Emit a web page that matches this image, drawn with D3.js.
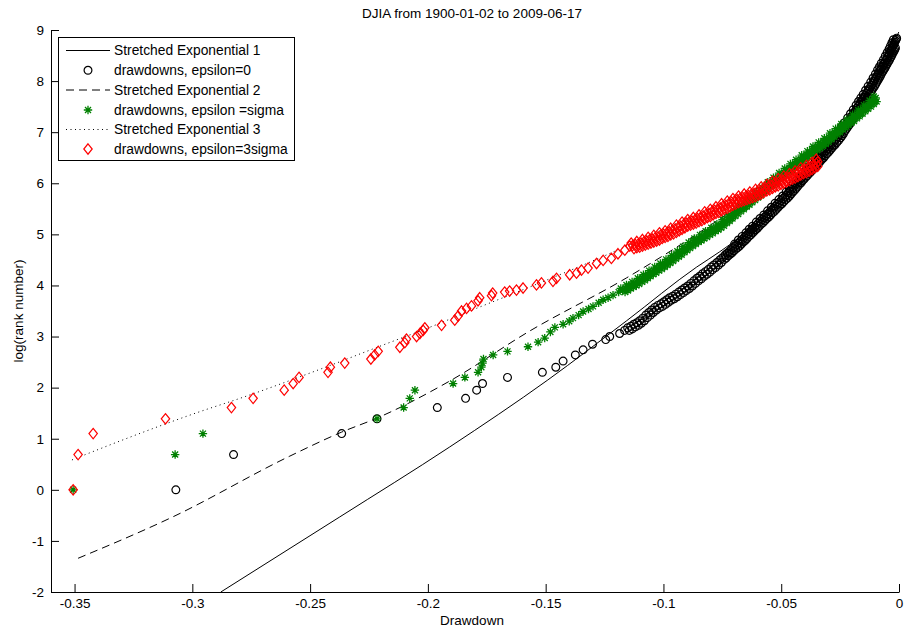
<!DOCTYPE html>
<html><head><meta charset="utf-8">
<script src="https://cdn.jsdelivr.net/npm/d3@7"></script>
<style>
body{margin:0;background:#fff}
svg{display:block;font-family:"Liberation Sans",Arial,sans-serif}
</style>
</head><body>
<svg id="chart" width="905" height="632"></svg>
<script>
// ---------------- data ----------------
const titleText = "DJIA from 1900-01-02 to 2009-06-17";
const xLabelText = "Drawdown";
const yLabelText = "log(rank number)";
const xTicks = [-0.35, -0.3, -0.25, -0.2, -0.15, -0.1, -0.05, 0];
const xTickLabels = ["-0.35", "-0.3", "-0.25", "-0.2", "-0.15", "-0.1", "-0.05", "0"];
const yTicks = [-2, -1, 0, 1, 2, 3, 4, 5, 6, 7, 8, 9];
const yTickLabels = ["-2", "-1", "0", "1", "2", "3", "4", "5", "6", "7", "8", "9"];
const legendLabels = ["Stretched Exponential 1", "drawdowns, epsilon=0", "Stretched Exponential 2",
  "drawdowns, epsilon =sigma", "Stretched Exponential 3", "drawdowns, epsilon=3sigma"];

// Stretched Exponential 1 (solid)
const fit1X = [-0.2879, -0.2374, -0.1907, -0.1491, -0.1156, -0.0859, -0.0761, -0.0621, -0.0494, -0.0392, -0.0307, -0.0222, -0.0137, -0.0082, -0.0027, -0.0001];
const fit1Y = [-2.0, -0.53, 0.84, 2.15, 3.31, 4.36, 4.66, 5.16, 5.80, 6.33, 6.80, 7.25, 7.80, 8.20, 8.68, 8.96];
// Stretched Exponential 2 (dashed)
const fit2X = [-0.3485, -0.3083, -0.2586, -0.2366, -0.2213, -0.1907, -0.1567, -0.1156, -0.0876, -0.0632, -0.0421, -0.0252, -0.0099];
const fit2Y = [-1.34, -0.53, 0.66, 1.13, 1.41, 2.13, 3.11, 4.15, 4.95, 5.71, 6.40, 7.05, 7.67];
// Stretched Exponential 3 (dotted)
const fit3X = [-0.3511, -0.3265, -0.2968, -0.2798, -0.2446, -0.2170, -0.2004, -0.1822, -0.1525, -0.1270, -0.1016, -0.0761, -0.0506, -0.0337];
const fit3Y = [0.585, 1.03, 1.53, 1.79, 2.38, 2.87, 3.16, 3.50, 4.05, 4.54, 5.07, 5.58, 6.10, 6.50];

// drawdowns, epsilon=0 (black circles)
const dd0X = [-0.3070,-0.2825,-0.2366,-0.2216,-0.1960,-0.1840,-0.1793,-0.1768,-0.1662,-0.1514,-0.1457,-0.1426,-0.1374,-0.1341,-0.1301,-0.1245,-0.1228,-0.1186,-0.1165,
-0.1152,-0.1139,-0.1126,-0.1113,-0.1101,-0.1088,-0.1075,-0.1062,-0.1050,-0.1037,-0.1024,-0.1011,-0.0998,-0.0986,-0.0974,-0.0961,-0.0948,-0.0935,-0.0922,-0.0910,-0.0897,-0.0884,-0.0871,-0.0858,-0.0846,-0.0834,-0.0822,-0.0810,-0.0798,-0.0786,-0.0773,-0.0761,
-0.0753,-0.0745,-0.0737,-0.0729,-0.0721,-0.0713,-0.0705,-0.0697,-0.0689,
-0.0681,-0.0673,-0.0665,-0.0657,-0.0649,-0.0641,-0.0633,-0.0627,-0.0621,
-0.0613,-0.0605,-0.0597,-0.0589,-0.0581,-0.0573,-0.0565,-0.0557,-0.0549,
-0.0541,-0.0533,-0.0525,-0.0517,-0.0509,-0.0501,-0.0493,-0.0485,-0.0477,
-0.0470,-0.0463,-0.0456,-0.0449,-0.0442,-0.0435,-0.0428,-0.0422,
-0.0415,-0.0408,-0.0401,-0.0394,-0.0387,-0.0380,-0.0373,-0.0367,
-0.0360,-0.0353,-0.0346,-0.0339,-0.0332,-0.0325,-0.0318,-0.0311,
-0.0304,-0.0297,-0.0290,-0.0283,-0.0276,-0.0268,-0.0260,
-0.0254,-0.0248,-0.0242,-0.0236,-0.0230,-0.0224,-0.0218,-0.0209,
-0.0203,-0.0197,-0.0191,-0.0185,-0.0179,-0.0173,-0.0167,-0.0163,-0.0158,
-0.0153,-0.0148,-0.0143,-0.0138,-0.0133,-0.0128,-0.0122,-0.0116,
-0.0111,-0.0106,-0.0101,-0.0096,-0.0091,-0.0087,-0.0082,
-0.0078,-0.0074,-0.0070,-0.0066,-0.0062,-0.0057,-0.0053,
-0.0049,-0.0045,-0.0041,-0.0037,-0.0033,-0.0030,-0.0027,
-0.0024,-0.0021,-0.0018,-0.0015,-0.0012,-0.0010];
const dd0Y = [0,0.69,1.10,1.39,1.61,1.79,1.95,2.08,2.20,2.30,2.40,2.52,2.64,2.74,2.85,2.94,3.00,3.06,3.12,
3.17,3.20,3.24,3.27,3.31,3.36,3.42,3.47,3.52,3.57,3.61,3.64,3.68,3.72,3.76,3.79,3.83,3.87,3.91,3.95,3.99,4.04,4.09,4.14,4.18,4.23,4.27,4.31,4.36,4.40,4.45,4.50,
4.53,4.56,4.60,4.63,4.66,4.70,4.73,4.76,4.79,
4.83,4.87,4.90,4.94,4.98,5.01,5.05,5.08,5.11,
5.14,5.18,5.22,5.25,5.29,5.33,5.36,5.40,5.44,
5.47,5.51,5.55,5.59,5.62,5.66,5.70,5.73,5.77,
5.81,5.85,5.88,5.92,5.96,6.00,6.03,6.07,
6.10,6.14,6.17,6.21,6.24,6.28,6.31,6.34,
6.38,6.41,6.45,6.49,6.52,6.56,6.60,6.63,
6.67,6.71,6.75,6.78,6.82,6.86,6.91,
6.95,6.99,7.04,7.08,7.12,7.16,7.20,7.26,
7.30,7.34,7.38,7.42,7.47,7.51,7.55,7.58,7.61,
7.65,7.69,7.72,7.76,7.80,7.83,7.88,7.92,
7.96,8.00,8.04,8.08,8.12,8.16,8.20,
8.23,8.26,8.29,8.33,8.36,8.40,8.43,
8.47,8.50,8.54,8.58,8.61,8.64,8.67,
8.70,8.73,8.76,8.79,8.82,8.84];
// more epsilon=0 drawdowns on the lower-right side of the dense band
const dd0LowX = [-0.1145,-0.1132,-0.1119,-0.1106,-0.1094,-0.1081,-0.1068,-0.1055,-0.1043,-0.1030,-0.1017,-0.1004,-0.0991,-0.0979,-0.0967,-0.0954,-0.0941,-0.0928,-0.0915,-0.0903,-0.0890,-0.0877,-0.0864,-0.0851,-0.0839,-0.0827,-0.0815,-0.0803,-0.0791,-0.0779,-0.0766,-0.0754,
-0.0741,-0.0733,-0.0725,-0.0717,-0.0709,-0.0701,-0.0693,-0.0685,-0.0677,-0.0669,-0.0661,-0.0653,-0.0645,-0.0637,-0.0629,-0.0621,-0.0615,-0.0609,
-0.0601,-0.0593,-0.0585,-0.0577,-0.0569,-0.0561,-0.0553,-0.0545,-0.0537,-0.0529,-0.0521,-0.0513,-0.0505,-0.0497,-0.0489,-0.0481,-0.0473,-0.0465,
-0.0458,-0.0451,-0.0444,-0.0437,-0.0430,-0.0423,-0.0416,-0.0410,-0.0403,-0.0396,-0.0389,-0.0382,-0.0375,-0.0368,-0.0361,-0.0355,
-0.0348,-0.0341,-0.0334,-0.0327,-0.0320,-0.0313,-0.0306,-0.0299,-0.0292,-0.0285,-0.0278,-0.0271,-0.0264,-0.0256,-0.0248,
-0.0242,-0.0236,-0.0230,-0.0224,-0.0218,-0.0212,-0.0206,-0.0197,-0.0191,-0.0185,-0.0179,-0.0173,-0.0167,-0.0161,-0.0155,-0.0151,-0.0146,
-0.0141,-0.0136,-0.0131,-0.0126,-0.0121,-0.0116,-0.0110,-0.0104,-0.0099,-0.0094,-0.0089,-0.0084,-0.0079,-0.0075,-0.0070,
-0.0066,-0.0062,-0.0058,-0.0054,-0.0050,-0.0045,-0.0041,-0.0037,-0.0033,-0.0029,-0.0025,-0.0021,-0.0018,-0.0015];
const dd0LowY = [3.12,3.15,3.19,3.22,3.26,3.31,3.37,3.42,3.47,3.52,3.56,3.59,3.63,3.67,3.71,3.74,3.78,3.82,3.86,3.90,3.94,3.99,4.04,4.09,4.13,4.18,4.22,4.26,4.31,4.35,4.40,4.45,
4.51,4.54,4.58,4.61,4.64,4.68,4.71,4.74,4.77,4.81,4.85,4.88,4.92,4.96,4.99,5.03,5.06,5.09,
5.12,5.16,5.20,5.23,5.27,5.31,5.34,5.38,5.42,5.45,5.49,5.53,5.57,5.60,5.64,5.68,5.71,5.75,
5.79,5.83,5.86,5.90,5.94,5.98,6.01,6.05,6.08,6.12,6.15,6.19,6.22,6.26,6.29,6.32,
6.36,6.39,6.43,6.47,6.50,6.54,6.58,6.61,6.65,6.69,6.73,6.76,6.80,6.84,6.89,
6.93,6.97,7.02,7.06,7.10,7.14,7.18,7.24,7.28,7.32,7.36,7.40,7.45,7.49,7.53,7.56,7.59,
7.63,7.67,7.70,7.74,7.78,7.81,7.86,7.90,7.94,7.98,8.02,8.06,8.10,8.14,8.18,
8.21,8.24,8.27,8.31,8.34,8.38,8.41,8.45,8.48,8.52,8.56,8.59,8.62,8.65];
// and on the upper-left side of the dense band
const dd0UpX = [-0.0698,-0.0682,-0.0666,-0.0650,-0.0636,-0.0622,-0.0606,-0.0590,-0.0574,-0.0558,-0.0542,-0.0526,-0.0510,-0.0494,-0.0479,-0.0465,-0.0451,-0.0437,-0.0424,-0.0410,
-0.0396,-0.0382,-0.0369,-0.0355,-0.0341,-0.0327,-0.0313,-0.0299,-0.0285,-0.0269,-0.0257,-0.0245,-0.0233,-0.0218,-0.0206,-0.0194,-0.0182,-0.0172,-0.0162,-0.0152,
-0.0142,-0.0131,-0.0120,-0.0110,-0.0100,-0.0091,-0.0083,-0.0075,-0.0066,-0.0058,-0.0050,-0.0042,-0.0036,-0.0030,-0.0024];
const dd0UpY = [4.81,4.89,4.96,5.03,5.10,5.16,5.24,5.31,5.38,5.46,5.53,5.61,5.68,5.75,5.83,5.90,5.98,6.05,6.12,6.19,
6.26,6.33,6.40,6.47,6.54,6.62,6.69,6.77,6.84,6.93,7.01,7.10,7.18,7.28,7.36,7.44,7.53,7.60,7.67,7.74,
7.82,7.90,7.98,8.06,8.14,8.22,8.28,8.35,8.42,8.49,8.56,8.63,8.69,8.75,8.81];

// drawdowns, epsilon = sigma (green stars)
const dd1X = [-0.3506,-0.3073,-0.2955,-0.2216,-0.2103,-0.2077,-0.2055,-0.1893,-0.1843,-0.1787,-0.1773,-0.1768,-0.1764,-0.1723,-0.1662,-0.1575,-0.1532,-0.1504,-0.1480,-0.1461,-0.1426,-0.1400,-0.1384,-0.1360,-0.1341,-0.1318,-0.1299,-0.1275,-0.1256,-0.1235,-0.1214,-0.1190,
-0.1173,-0.1161,-0.1149,-0.1137,-0.1125,-0.1113,-0.1101,-0.1089,-0.1077,-0.1065,-0.1053,-0.1041,-0.1029,-0.1017,-0.1005,-0.0993,-0.0981,-0.0969,-0.0957,-0.0945,
-0.0933,-0.0921,-0.0909,-0.0897,-0.0885,-0.0873,-0.0861,-0.0849,-0.0837,-0.0825,-0.0813,-0.0801,-0.0789,-0.0777,-0.0765,-0.0753,-0.0741,-0.0729,-0.0717,-0.0705,
-0.0693,-0.0681,-0.0669,-0.0657,-0.0645,-0.0633,-0.0621,-0.0609,-0.0597,-0.0585,-0.0573,-0.0561,-0.0549,-0.0537,-0.0525,-0.0513,-0.0501,-0.0489,-0.0477,-0.0465,
-0.0453,-0.0441,-0.0429,-0.0417,-0.0405,-0.0393,-0.0381,-0.0369,-0.0357,-0.0345,-0.0333,-0.0321,-0.0309,-0.0297,-0.0285,-0.0273,-0.0261,-0.0249,-0.0237,-0.0225,
-0.0213,-0.0201,-0.0189,-0.0177,-0.0165,-0.0153,-0.0141,-0.0129,-0.0117,-0.0105,-0.0099];
const dd1Y = [0,0.69,1.10,1.39,1.61,1.79,1.95,2.08,2.20,2.30,2.40,2.48,2.56,2.64,2.71,2.80,2.89,2.97,3.09,3.18,3.24,3.30,3.36,3.42,3.49,3.54,3.59,3.66,3.72,3.76,3.81,3.87,
3.91,3.94,3.98,4.01,4.04,4.07,4.11,4.14,4.18,4.22,4.26,4.29,4.33,4.36,4.40,4.44,4.48,4.52,4.56,4.60,
4.64,4.69,4.73,4.77,4.81,4.85,4.89,4.92,4.96,4.99,5.03,5.06,5.10,5.13,5.17,5.21,5.26,5.30,5.35,5.40,
5.44,5.49,5.53,5.58,5.62,5.67,5.71,5.76,5.80,5.85,5.89,5.94,5.99,6.03,6.08,6.12,6.17,6.21,6.26,6.30,
6.35,6.39,6.43,6.47,6.52,6.56,6.60,6.65,6.69,6.73,6.77,6.81,6.85,6.90,6.95,7.00,7.04,7.09,7.13,7.18,
7.22,7.26,7.31,7.35,7.40,7.45,7.50,7.54,7.59,7.64,7.67];
const dd1LowX = [-0.1163,-0.1151,-0.1139,-0.1127,-0.1115,-0.1103,-0.1091,-0.1079,-0.1067,-0.1055,-0.1043,-0.1031,-0.1019,-0.1007,-0.0995,-0.0983,-0.0971,-0.0959,-0.0947,-0.0935,
-0.0923,-0.0911,-0.0899,-0.0887,-0.0875,-0.0863,-0.0851,-0.0839,-0.0827,-0.0815,-0.0803,-0.0791,-0.0779,-0.0767,-0.0755,-0.0743,-0.0731,-0.0719,-0.0707,-0.0695,
-0.0683,-0.0671,-0.0659,-0.0647,-0.0635,-0.0623,-0.0611,-0.0599,-0.0587,-0.0575,-0.0563,-0.0551,-0.0539,-0.0527,-0.0515,-0.0503,-0.0491,-0.0479,-0.0467,-0.0455,
-0.0443,-0.0431,-0.0419,-0.0407,-0.0395,-0.0383,-0.0371,-0.0359,-0.0347,-0.0335,-0.0323,-0.0311,-0.0299,-0.0287,-0.0275,-0.0263,-0.0251,-0.0239,-0.0227,-0.0215,
-0.0203,-0.0191,-0.0179,-0.0167,-0.0155,-0.0143,-0.0131,-0.0119,-0.0107,-0.0095];
const dd1LowY = [3.87,3.90,3.94,3.97,4.00,4.03,4.07,4.10,4.14,4.18,4.22,4.25,4.29,4.32,4.36,4.40,4.44,4.48,4.52,4.56,
4.60,4.65,4.69,4.73,4.77,4.81,4.85,4.88,4.92,4.95,4.99,5.02,5.06,5.09,5.13,5.17,5.22,5.26,5.31,5.36,
5.40,5.45,5.49,5.54,5.58,5.63,5.67,5.72,5.76,5.81,5.85,5.90,5.95,5.99,6.04,6.08,6.13,6.17,6.22,6.26,
6.31,6.35,6.39,6.43,6.48,6.52,6.56,6.61,6.65,6.69,6.73,6.77,6.81,6.86,6.91,6.96,7.00,7.05,7.09,7.14,
7.18,7.22,7.27,7.31,7.36,7.41,7.46,7.50,7.55,7.60];
const dd1UpX = [-0.1181,-0.1157,-0.1133,-0.1109,-0.1085,-0.1061,-0.1037,-0.1013,-0.0989,-0.0965,-0.0941,-0.0917,-0.0893,-0.0869,-0.0845,-0.0821,-0.0797,-0.0773,-0.0749,-0.0725,
-0.0701,-0.0677,-0.0653,-0.0629,-0.0605,-0.0581,-0.0557,-0.0533,-0.0509,-0.0485,-0.0461,-0.0437,-0.0413,-0.0389,-0.0365,-0.0341,-0.0317,-0.0293,-0.0269,-0.0245,
-0.0221,-0.0197,-0.0173,-0.0149,-0.0125,-0.0107];
const dd1UpY = [3.94,4.01,4.07,4.14,4.21,4.29,4.36,4.43,4.51,4.59,4.67,4.76,4.84,4.92,4.99,5.06,5.13,5.20,5.29,5.38,
5.47,5.56,5.65,5.74,5.83,5.92,6.02,6.11,6.20,6.29,6.38,6.46,6.55,6.63,6.72,6.80,6.88,6.98,7.07,7.16,
7.25,7.34,7.43,7.53,7.62,7.70];

// drawdowns, epsilon = 3 sigma (red diamonds)
const dd3X = [-0.3506,-0.3485,-0.3421,-0.3114,-0.2834,-0.2742,-0.2610,-0.2572,-0.2547,-0.2424,-0.2414,-0.2353,-0.2242,-0.2226,-0.2211,-0.2119,-0.2098,-0.2091,-0.2048,-0.2034,-0.2020,-0.2013,-0.1942,-0.1886,-0.1872,-0.1857,-0.1836,-0.1815,-0.1787,-0.1780,-0.1730,-0.1725,-0.1674,-0.1653,-0.1624,-0.1596,-0.1539,-0.1518,-0.1469,-0.1454,-0.1398,-0.1369,-0.1348,-0.1320,-0.1284,-0.1256,-0.1221,-0.1193,-0.1164,-0.1143,
-0.1131,-0.1119,-0.1107,-0.1095,-0.1083,-0.1071,-0.1059,-0.1047,-0.1035,-0.1023,-0.1011,-0.0999,-0.0987,-0.0975,-0.0963,-0.0951,-0.0939,-0.0927,-0.0915,-0.0903,
-0.0891,-0.0879,-0.0867,-0.0855,-0.0843,-0.0831,-0.0819,-0.0807,-0.0795,-0.0783,-0.0771,-0.0759,-0.0747,-0.0735,-0.0723,-0.0711,-0.0699,-0.0687,-0.0675,-0.0663,
-0.0651,-0.0639,-0.0627,-0.0615,-0.0603,-0.0591,-0.0579,-0.0567,-0.0555,-0.0543,-0.0531,-0.0519,-0.0507,-0.0495,-0.0483,-0.0471,-0.0459,-0.0447,-0.0435,-0.0423,
-0.0411,-0.0399,-0.0387,-0.0375,-0.0363,-0.0351,-0.0345];
const dd3Y = [0,0.69,1.10,1.39,1.61,1.79,1.95,2.08,2.20,2.30,2.40,2.48,2.56,2.64,2.71,2.79,2.88,2.95,3.00,3.06,3.12,3.17,3.22,3.32,3.40,3.50,3.55,3.60,3.70,3.76,3.80,3.85,3.87,3.89,3.91,3.95,4.01,4.05,4.08,4.14,4.21,4.24,4.30,4.34,4.43,4.49,4.53,4.62,4.69,4.77,
4.78,4.80,4.81,4.83,4.85,4.87,4.89,4.91,4.93,4.95,4.98,5.00,5.02,5.05,5.07,5.10,5.13,5.16,5.19,5.22,
5.24,5.26,5.28,5.31,5.33,5.36,5.39,5.41,5.44,5.47,5.49,5.52,5.55,5.57,5.60,5.63,5.65,5.68,5.70,5.72,
5.74,5.76,5.78,5.80,5.83,5.85,5.88,5.91,5.93,5.96,5.99,6.01,6.04,6.06,6.09,6.11,6.14,6.16,6.19,6.22,
6.25,6.27,6.30,6.33,6.36,6.39,6.42];
const dd3LowX = [-0.1125,-0.1113,-0.1101,-0.1089,-0.1077,-0.1065,-0.1053,-0.1041,-0.1029,-0.1017,-0.1005,-0.0993,-0.0981,-0.0969,-0.0957,-0.0945,-0.0933,-0.0921,-0.0909,-0.0897,
-0.0885,-0.0873,-0.0861,-0.0849,-0.0837,-0.0825,-0.0813,-0.0801,-0.0789,-0.0777,-0.0765,-0.0753,-0.0741,-0.0729,-0.0717,-0.0705,-0.0693,-0.0681,-0.0669,-0.0657,
-0.0645,-0.0633,-0.0621,-0.0609,-0.0597,-0.0585,-0.0573,-0.0561,-0.0549,-0.0537,-0.0525,-0.0513,-0.0501,-0.0489,-0.0477,-0.0465,-0.0453,-0.0441,-0.0429,-0.0417,
-0.0405,-0.0393,-0.0381,-0.0369,-0.0357,-0.0345];
const dd3LowY = [4.72,4.74,4.75,4.77,4.79,4.81,4.83,4.85,4.87,4.89,4.92,4.94,4.96,4.99,5.01,5.04,5.07,5.10,5.13,5.16,
5.18,5.20,5.22,5.25,5.27,5.30,5.33,5.35,5.38,5.41,5.43,5.46,5.49,5.51,5.54,5.57,5.59,5.62,5.64,5.66,
5.68,5.70,5.72,5.74,5.77,5.79,5.82,5.85,5.87,5.90,5.93,5.95,5.98,6.00,6.03,6.05,6.08,6.10,6.13,6.16,
6.19,6.21,6.24,6.27,6.30,6.33];
const dd3UpX = [-0.1137,-0.1113,-0.1089,-0.1065,-0.1041,-0.1017,-0.0993,-0.0969,-0.0945,-0.0921,-0.0897,-0.0873,-0.0849,-0.0825,-0.0801,-0.0777,-0.0753,-0.0729,-0.0705,-0.0681,
-0.0657,-0.0633,-0.0609,-0.0585,-0.0561,-0.0537,-0.0513,-0.0489,-0.0465,-0.0441,-0.0417,-0.0393,-0.0369,-0.0351];
const dd3UpY = [4.83,4.86,4.90,4.94,4.98,5.03,5.07,5.12,5.18,5.24,5.29,5.33,5.38,5.44,5.49,5.54,5.60,5.65,5.70,5.75,
5.79,5.83,5.88,5.93,5.98,6.04,6.09,6.14,6.19,6.24,6.30,6.35,6.41,6.47];

// ---------------- drawing ----------------
const svg = d3.select("#chart");
const W = 905, H = 632;
svg.append("rect").attr("width", W).attr("height", H).attr("fill", "#fff");

const x = d3.scaleLinear().domain([-0.36, 0]).range([51, 899]);
const y = d3.scaleLinear().domain([-2, 9]).range([592, 30]);

const zip = (a, b) => d3.range(Math.min(a.length, b.length)).map(i => [a[i], b[i]]);

const FONT = 13.5, LFONT = 13.8;
const COL_G = "#008000", COL_R = "#ff0000";

const line = d3.line().x(d => x(d[0])).y(d => y(d[1])).curve(d3.curveMonotoneX);
const plot = svg.append("g");

const circlePath = "M3.9,0A3.9,3.9 0 1,1 -3.9,0A3.9,3.9 0 1,1 3.9,0Z";
const starPath = "M-4.2,0H4.2M0,-4.2V4.2M-3,-3L3,3M-3,3L3,-3";
const diamondPath = "M0,-5.2L4.2,0L0,5.2L-4.2,0Z";

function drawLine(xs, ys, dash) {
  plot.append("path").datum(zip(xs, ys)).attr("d", line)
    .attr("fill", "none").attr("stroke", "#000").attr("stroke-width", 1)
    .attr("stroke-dasharray", dash);
}
function drawMarks(pts, p, color, sw) {
  plot.append("g").selectAll("path").data(pts).join("path")
    .attr("transform", d => `translate(${x(d[0])},${y(d[1])})`)
    .attr("d", p).attr("fill", "none").attr("stroke", color).attr("stroke-width", sw);
}

drawLine(fit1X, fit1Y, null);
drawMarks(zip(dd0X, dd0Y).concat(zip(dd0LowX, dd0LowY), zip(dd0UpX, dd0UpY)), circlePath, "#000", 1.2);
drawLine(fit2X, fit2Y, "8,5");
drawMarks(zip(dd1X, dd1Y).concat(zip(dd1LowX, dd1LowY), zip(dd1UpX, dd1UpY)), starPath, COL_G, 1.3);
drawLine(fit3X, fit3Y, "1,3.5");
drawMarks(zip(dd3X, dd3Y).concat(zip(dd3LowX, dd3LowY), zip(dd3UpX, dd3UpY)), diamondPath, COL_R, 1.2);

// axes
const xAxis = d3.axisBottom(x).tickValues(xTicks).tickFormat((d, i) => xTickLabels[i])
  .tickSizeInner(-8).tickSizeOuter(0).tickPadding(6);
const yAxis = d3.axisLeft(y).tickValues(yTicks).tickFormat((d, i) => yTickLabels[i])
  .tickSizeInner(-8).tickSizeOuter(0).tickPadding(7);

const gx = svg.append("g").attr("transform", "translate(0,592)").call(xAxis);
const gy = svg.append("g").attr("transform", "translate(51,0)").call(yAxis);
[gx, gy].forEach(g => {
  g.selectAll("text").attr("font-size", FONT).attr("fill", "#000")
    .attr("font-family", '"Liberation Sans",Arial,sans-serif');
  g.selectAll("line,path").attr("stroke", "#000").attr("stroke-width", 1);
});

// titles
svg.append("text").attr("x", 472).attr("y", 18).attr("text-anchor", "middle")
  .attr("font-size", FONT).text(titleText);
svg.append("text").attr("x", 472).attr("y", 625).attr("text-anchor", "middle")
  .attr("font-size", FONT).text(xLabelText);
svg.append("text").attr("transform", "translate(23,311) rotate(-90)").attr("text-anchor", "middle")
  .attr("font-size", FONT).text(yLabelText);

// legend
const lg = svg.append("g");
lg.append("rect").attr("x", 58.5).attr("y", 37.5).attr("width", 236).attr("height", 123)
  .attr("fill", "#fff").attr("stroke", "#000").attr("stroke-width", 1);
const rowY = [50.5, 70.3, 90, 110, 129.5, 149];
const legItems = [
  {type: "line", dash: null}, {type: "mark", p: circlePath, c: "#000", sw: 1.2},
  {type: "line", dash: "8,5"}, {type: "mark", p: starPath, c: COL_G, sw: 1.3},
  {type: "line", dash: "1,3.5"}, {type: "mark", p: diamondPath, c: COL_R, sw: 1.2}
];
legItems.forEach((it, i) => {
  const yy = rowY[i];
  if (it.type === "line") {
    lg.append("line").attr("x1", 66).attr("x2", 110).attr("y1", yy).attr("y2", yy)
      .attr("stroke", "#000").attr("stroke-width", 1).attr("stroke-dasharray", it.dash);
  } else {
    lg.append("path").attr("transform", `translate(88,${yy})`).attr("d", it.p)
      .attr("fill", "none").attr("stroke", it.c).attr("stroke-width", it.sw);
  }
  lg.append("text").attr("x", 114).attr("y", yy + 4.7).attr("font-size", LFONT).text(legendLabels[i]);
});
</script>
</body></html>
